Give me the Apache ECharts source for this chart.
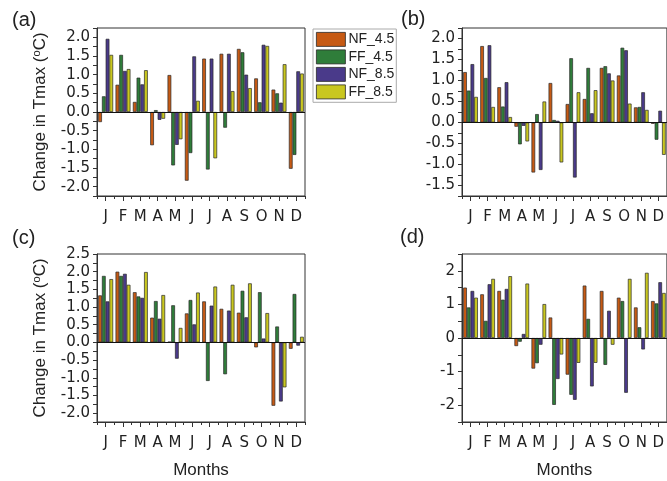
<!DOCTYPE html>
<html><head><meta charset="utf-8">
<script src="https://cdn.jsdelivr.net/npm/echarts@6/dist/echarts.min.js"></script>
<style>html,body{margin:0;padding:0;background:#fff}#c{width:667px;height:481px}</style>
</head><body><div id="c"></div>
<script>
// ---- data ----
const monthKeys = ['Jan','Feb','Mar','Apr','May','Jun','Jul','Aug','Sep','Oct','Nov','Dec'];
const monthLabels = ['J','F','M','A','M','J','J','A','S','O','N','D'];
const seriesNames = ['NF_4.5','FF_4.5','NF_8.5','FF_8.5'];

const a_NF45 = [-0.27, 0.73, 0.27, -0.89, 0.99, -1.84, 1.43, 1.56, 1.69, 0.90, 0.60, -1.52];
const a_FF45 = [0.42, 1.53, 0.92, 0.05, -1.43, -1.10, -1.54, -0.42, 1.60, 0.26, 0.50, -1.15];
const a_NF85 = [1.96, 1.10, 0.74, -0.21, -0.88, 1.49, 1.43, 1.56, 1.00, 1.80, 0.25, 1.09];
const a_FF85 = [1.53, 1.15, 1.12, -0.18, -0.73, 0.30, -1.24, 0.56, 0.64, 1.77, 1.28, 1.03];

const b_NF45 = [1.20, 1.82, 0.84, -0.10, -1.19, 0.94, 0.44, 0.56, 1.30, 1.12, 0.36, -0.03];
const b_FF45 = [0.76, 1.06, 0.38, -0.52, 0.20, 0.06, 1.53, 1.30, 1.34, 1.78, 0.37, -0.41];
const b_NF85 = [1.39, 1.84, 0.96, -0.08, -1.13, 0.04, -1.31, 0.22, 1.17, 1.72, 0.72, 0.28];
const b_FF85 = [0.61, 0.37, 0.13, -0.45, 0.50, -0.95, 0.72, 0.77, 1.00, 0.45, 0.30, -0.77];

const c_NF45 = [1.33, 2.00, 1.42, 0.70, 0.02, 0.82, 1.16, 0.95, 0.84, -0.14, -1.79, -0.18];
const c_FF45 = [1.88, 1.88, 1.30, 1.17, 1.05, 1.20, -1.09, -0.90, 1.46, 1.42, 0.45, 1.37];
const c_NF85 = [1.16, 1.94, 1.26, 0.67, -0.46, 0.51, 1.04, 0.90, 0.71, 0.11, -1.67, -0.09];
const c_FF85 = [1.79, 1.63, 1.99, 1.34, 0.41, 1.41, 1.58, 1.63, 1.67, 0.83, -1.27, 0.16];

const d_NF45 = [1.50, 1.30, 1.40, -0.24, -0.91, 0.61, -1.09, 1.56, 1.40, 1.20, 0.91, 1.10];
const d_FF45 = [0.91, 0.51, 1.14, -0.11, -0.75, -1.99, -1.69, 0.57, -0.80, 1.10, 0.32, 1.03];
const d_NF85 = [1.40, 1.60, 1.46, 0.12, -0.20, -1.22, -1.84, -1.44, 0.81, -1.63, -0.34, 1.66];
const d_FF85 = [1.20, 1.76, 1.84, 1.62, 1.01, -0.49, -0.74, -0.74, -0.20, 1.76, 1.94, 1.34];

const colors = ['#c65a14', '#2f7d3a', '#4a3a8a', '#c9c71f'];

const panels = [
  {tag:'(a)', left:97, top:28, min:-2.25, max:2.25, step:0.25, major:0.5, dec:1, data:[a_NF45,a_FF45,a_NF85,a_FF85], yTitle:true, xTitle:false},
  {tag:'(b)', left:462, top:28, min:-1.75, max:2.25, step:0.25, major:0.5, dec:1, data:[b_NF45,b_FF45,b_NF85,b_FF85], yTitle:false, xTitle:false},
  {tag:'(c)', left:97, top:254, min:-2.25, max:2.5, step:0.25, major:0.5, dec:1, data:[c_NF45,c_FF45,c_NF85,c_FF85], yTitle:true, xTitle:true},
  {tag:'(d)', left:462, top:254, min:-2.5, max:2.5, step:0.5, major:1, dec:0, data:[d_NF45,d_FF45,d_NF85,d_FF85], yTitle:false, xTitle:true}
];
const tagPos = [[12,10],[401,9],[12,228],[400,227]];

const FONT = 'Liberation Sans, Arial, sans-serif';
const TICKFONT = 'DejaVu Sans, sans-serif';
const grid = [], xAxis = [], yAxis = [], series = [], title = [];
panels.forEach((p, i) => {
  grid.push({left:p.left, top:p.top, width:208, height:168, show:true, borderColor:'#333', borderWidth:1, backgroundColor:'transparent', containLabel:false});
  xAxis.push({
    type:'category', gridIndex:i, data:monthKeys, position:'bottom',
    axisLine:{show:true, onZero:false, lineStyle:{color:'#333', width:1}},
    axisTick:{show:true, alignWithLabel:true, inside:false, length:5, lineStyle:{color:'#333'}},
    axisLabel:{show:true, margin:14, fontSize:15, color:'#222', fontFamily:TICKFONT, interval:0,
      formatter:(v, idx) => monthLabels[idx]},
    name: p.xTitle ? 'Months' : '', nameLocation:'middle', nameGap:40,
    nameTextStyle:{fontSize:17, color:'#222', fontFamily:FONT},
    splitLine:{show:false}
  });
  xAxis.push({
    type:'category', gridIndex:i, data:monthKeys, position:'bottom', boundaryGap:true,
    axisLine:{show:false, onZero:false},
    axisTick:{show:true, alignWithLabel:false, inside:false, length:3, interval:0, lineStyle:{color:'#333'}},
    axisLabel:{show:false}, splitLine:{show:false}
  });
  const major = p.major, dec = p.dec;
  yAxis.push({
    type:'value', gridIndex:i, min:p.min, max:p.max, interval:p.step, position:'left',
    axisLine:{show:true, lineStyle:{color:'#333', width:1}},
    axisTick:{show:true, inside:false, length:4, lineStyle:{color:'#333'}},
    axisLabel:{show:true, margin:7, fontSize:15, color:'#222', fontFamily:TICKFONT,
      formatter: v => { const r = v / major; return Math.abs(r - Math.round(r)) < 1e-6 ? v.toFixed(dec) : ''; }},
    splitLine:{show:false},
    name: p.yTitle ? 'Change in Tmax ({s|o}C)' : '', nameLocation:'middle', nameGap:48, nameRotate:90,
    nameTextStyle:{fontSize:17, color:'#222', fontFamily:FONT,
      rich:{s:{fontSize:11, verticalAlign:'top', padding:[0,0,7,0], fontFamily:FONT, color:'#222'}}}
  });
  title.push({text:p.tag, left:tagPos[i][0], top:tagPos[i][1], padding:0,
    textStyle:{fontSize:20, fontWeight:'normal', color:'#222', fontFamily:FONT}});
  p.data.forEach((vals, k) => {
    const s = {
      name:seriesNames[k], type:'bar', xAxisIndex:2*i, yAxisIndex:i, data:vals,
      barGap:'0%', barCategoryGap:'14%',
      itemStyle:{color:colors[k], borderColor:'#2a2a2a', borderWidth:0.7},
      emphasis:{disabled:true}, animation:false
    };
    if (k === 0) {
      s.markLine = {silent:true, symbol:'none', animation:false, label:{show:false},
        lineStyle:{color:'#111', width:1, type:'solid'}, data:[{yAxis:0}]};
    }
    series.push(s);
  });
});

const chart = echarts.init(document.getElementById('c'), null, {renderer:'canvas'});
chart.setOption({
  animation:false,
  backgroundColor:'#fff',
  title,
  legend:{
    data:seriesNames, orient:'vertical', left:313, top:29,
    itemWidth:29, itemHeight:14, itemGap:2.7, icon:'rect',
    padding:[3,2,3,3], borderColor:'#aaa', borderWidth:1, backgroundColor:'#fff',
    textStyle:{fontSize:14, color:'#222', fontFamily:FONT, padding:[0,0,0,-2]},
    itemStyle:{borderColor:'#2a2a2a', borderWidth:0.8},
    selectedMode:false
  },
  grid, xAxis, yAxis, series
});
</script>
</body></html>
